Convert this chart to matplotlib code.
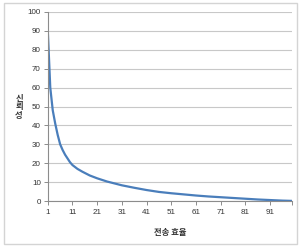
import matplotlib
matplotlib.use('Agg')
import matplotlib.pyplot as plt
from matplotlib.patches import Rectangle

# values
efficiency = [1, 2, 3, 4, 5, 6, 7, 8, 9, 10, 11, 13, 15, 18, 21, 25, 31, 36, 41,
              46, 51, 56, 61, 66, 71, 76, 81, 86, 91, 96, 100]
reliability = [90, 60, 48, 41, 35, 30, 27, 24.5, 22.5, 20.5, 19, 17, 15.5, 13.5, 12,
               10.3, 8.3, 7.0, 5.8, 4.8, 4.1, 3.5, 2.9, 2.4, 2.0, 1.6, 1.2, 0.8,
               0.5, 0.2, 0.05]
x_ticks = [1, 11, 21, 31, 41, 51, 61, 71, 81, 91]
y_ticks = [0, 10, 20, 30, 40, 50, 60, 70, 80, 90, 100]
y_title = ['신', '뢰', '성']

plt.rcParams['font.family'] = ['Liberation Sans', 'Noto Sans CJK KR']

fig = plt.figure(figsize=(3.05, 2.52), dpi=100)
fig.patches.append(Rectangle((4 / 305, 1 - 244 / 252), 293 / 305, 241 / 252,
                             transform=fig.transFigure, fill=False,
                             edgecolor='#d4d4d4', linewidth=1.0))

ax = fig.add_axes([47.8 / 305, 51 / 252, 244.5 / 305, 189 / 252])
ax.plot(efficiency, reliability, color='#4a7ebb', linewidth=1.6, solid_capstyle='round')

ax.set_xlim(1, 100)
ax.set_ylim(0, 100)
ax.set_xticks(x_ticks + [100])
ax.set_xticklabels([str(t) for t in x_ticks] + [''])
ax.set_yticks(y_ticks)
ax.set_yticklabels([str(t) for t in y_ticks])

ax.yaxis.grid(True, color='#c8c8c8', linewidth=0.8)
ax.set_axisbelow(True)
for s in ['top', 'right']:
    ax.spines[s].set_visible(False)
for s in ['left', 'bottom']:
    ax.spines[s].set_color('#8c8c8c')
    ax.spines[s].set_linewidth(0.8)

ax.tick_params(axis='both', labelsize=5.8, colors='#8c8c8c', labelcolor='#333333',
               length=3, width=0.7, pad=2.5)
ax.tick_params(axis='y', pad=2)

ax.set_xlabel('전송 효율', fontsize=6, fontweight='bold', color='#333333', labelpad=9,
              family=['Noto Sans CJK KR', 'DejaVu Sans'])
# stacked vertical axis title, one character per line as in the Excel original
for i, ch in enumerate(y_title):
    fig.text(19 / 305, 1 - (98 + 9 * i) / 252, ch, fontsize=6, fontweight='bold',
             color='#333333', ha='center', va='center',
             family=['Noto Sans CJK KR', 'DejaVu Sans'])

fig.savefig('out.png', dpi=100)
